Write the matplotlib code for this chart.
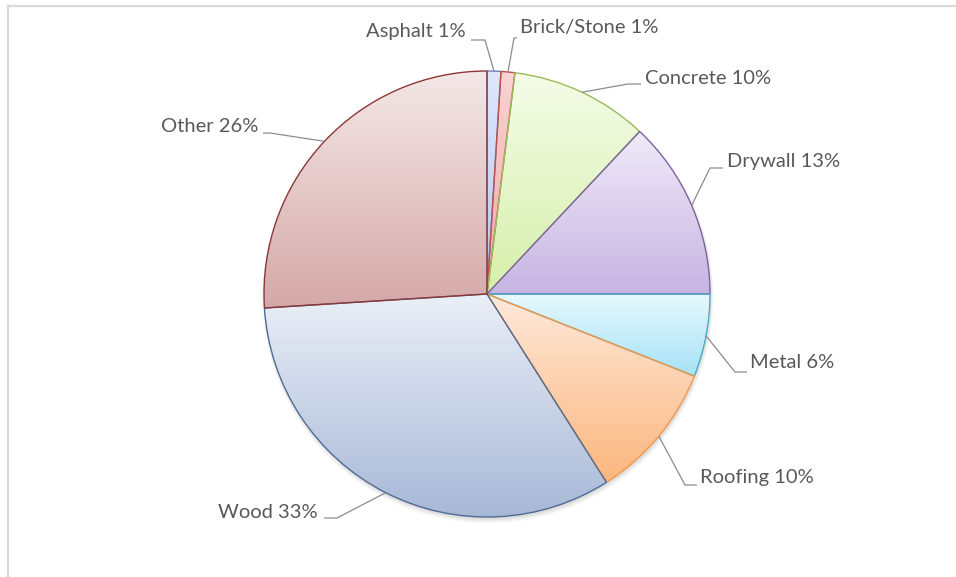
import numpy as np
import matplotlib
matplotlib.use("Agg")
import matplotlib.pyplot as plt
from matplotlib.colors import LinearSegmentedColormap
from matplotlib.lines import Line2D
from matplotlib.patches import Circle

# waste composition by material
materials = ["Asphalt", "Brick/Stone", "Concrete", "Drywall", "Metal", "Roofing", "Wood", "Other"]
shares = [1, 1, 10, 13, 6, 10, 33, 26]

# (top of gradient, bottom of gradient, outline)
slice_colors = [
    ("#dfe7fb", "#b6c6ef", "#6d82b8"),
    ("#fbd3d3", "#f2a6a6", "#c0504d"),
    ("#f5fce8", "#d6efab", "#9bbb59"),
    ("#f0eaf8", "#c6b4e3", "#8064a2"),
    ("#e8f9fe", "#a6e2f6", "#4bacc6"),
    ("#feeadb", "#fbb67e", "#f79646"),
    ("#ebeff7", "#a7b8d7", "#4f6b94"),
    ("#f4e8e8", "#d5a8a8", "#8c3836"),
]

W, H = 956, 577
CX, CY, R = 487, 294, 223  # pie centre and radius in pixels


def px(x, y):
    """pixel position -> pie units (centre 0,0, radius 1)"""
    return (x - CX) / R, (CY - y) / R


# label text anchor, horizontal alignment, elbow point, leader end (pixels)
label_layout = [
    ((466, 32), "right", (485, 40), (471, 40)),
    ((520, 28), "left", (514, 38), (517, 38)),
    ((645, 79), "left", (628, 84), (641, 84)),
    ((727, 162), "left", (710, 168), (723, 168)),
    ((750, 363), "left", (735, 372), (747, 372)),
    ((700, 477), "left", (685, 485), (697, 485)),
    ((318, 512), "right", (337, 518), (324, 518)),
    ((258, 127), "right", (270, 133), (263, 133)),
]

fig = plt.figure(figsize=(W / 100, H / 100), dpi=100)
ax = fig.add_axes([0, 0, 1, 1])

# soft drop shadow under the pie
for i, a in enumerate([0.05, 0.06, 0.08, 0.1]):
    ax.add_patch(Circle((0.004, -0.010 - 0.002 * (3 - i)), 1.0 + 0.004 * (3 - i),
                        facecolor="#7f7f7f", edgecolor="none", alpha=a, zorder=0))

wedges, _ = ax.pie(shares, startangle=90, counterclock=False, radius=1, center=(0, 0),
                   wedgeprops=dict(facecolor="none", linewidth=1.0))

grad = np.linspace(0, 1, 256).reshape(-1, 1)
for w, (top, bottom, edge) in zip(wedges, slice_colors):
    w.set_edgecolor(edge)
    w.set_zorder(3)
    bb = w.get_path().get_extents()
    cmap = LinearSegmentedColormap.from_list("g", [top, bottom])
    im = ax.imshow(grad, extent=[bb.x0, bb.x1, bb.y0, bb.y1], origin="upper",
                   cmap=cmap, aspect="auto", interpolation="bilinear", zorder=2)
    im.set_clip_path(w)

# data labels with leader lines from the middle of each slice
total = sum(shares)
cum = 0
for name, val, (txt, ha, elbow, end) in zip(materials, shares, label_layout):
    mid = np.deg2rad(90 - 360 * (cum + val / 2) / total)
    cum += val
    sx, sy = np.cos(mid), np.sin(mid)
    ex, ey = px(*elbow)
    lx, ly = px(*end)
    ax.plot([sx, ex, lx], [sy, ey, ly], color="#8c8c8c", lw=0.9, zorder=4,
            solid_capstyle="butt")
    tx, ty = px(*txt)
    ax.text(tx, ty, f"{name} {val}%", ha=ha, va="center", fontsize=14.5,
            family="Lato", color="#595959", zorder=5)

ax.set_xlim(-CX / R, (W - CX) / R)
ax.set_ylim(-(H - CY) / R, CY / R)
ax.set_aspect("equal")
ax.axis("off")

# chart area outline (only top and left edges fall inside the image)
fig.add_artist(Line2D([7.5 / W, 1], [1 - 5.5 / H, 1 - 5.5 / H], transform=fig.transFigure,
                      color="#d9d9d9", lw=1.6))
fig.add_artist(Line2D([7.5 / W, 7.5 / W], [0, 1 - 5.5 / H], transform=fig.transFigure,
                      color="#d9d9d9", lw=1.6))

fig.savefig("out.png", dpi=100, facecolor="white")
